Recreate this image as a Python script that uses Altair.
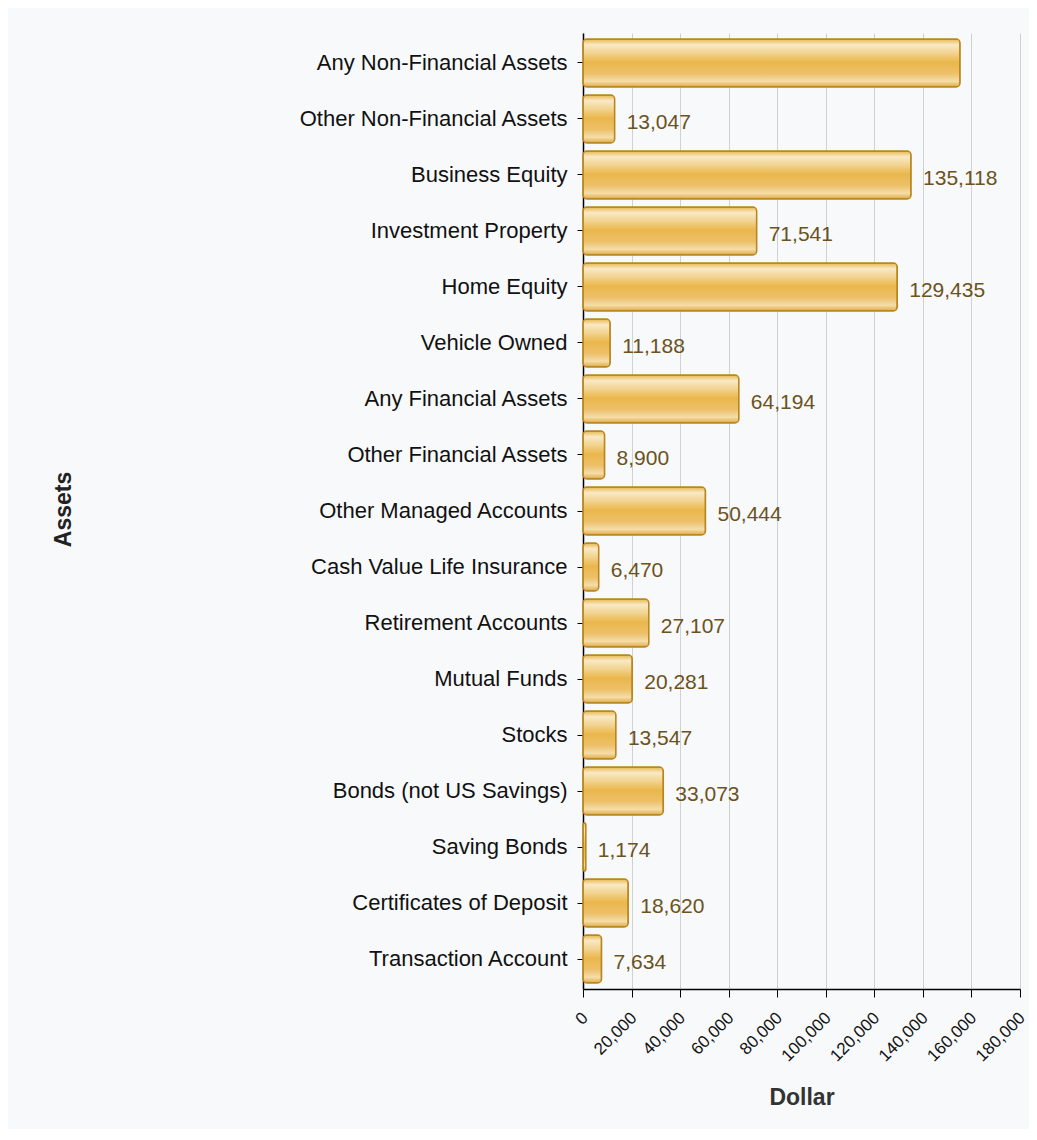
import altair as alt
import pandas as pd

categories = [
    "Any Non-Financial Assets",
    "Other Non-Financial Assets\u00a0",
    "Business Equity",
    "Investment Property",
    "Home Equity",
    "Vehicle Owned",
    "Any Financial Assets",
    "Other Financial Assets",
    "Other Managed Accounts",
    "Cash Value Life Insurance",
    "Retirement Accounts",
    "Mutual Funds",
    "Stocks",
    "Bonds (not US Savings)",
    "Saving Bonds",
    "Certificates of Deposit",
    "Transaction Account",
]
values = [155300, 13047, 135118, 71541, 129435, 11188, 64194, 8900, 50444,
          6470, 27107, 20281, 13547, 33073, 1174, 18620, 7634]
show_label = [False] + [True] * 16
x_ticks = [0, 20000, 40000, 60000, 80000, 100000, 120000, 140000, 160000, 180000]

df = pd.DataFrame({"Assets": categories, "Dollar": values, "show": show_label})

gradient = {
    "gradient": "linear",
    "x1": 0, "y1": 0, "x2": 0, "y2": 1,
    "stops": [
        {"offset": 0.0, "color": "#e9b64a"},
        {"offset": 0.12, "color": "#f9e9c6"},
        {"offset": 0.3, "color": "#f2d28e"},
        {"offset": 0.48, "color": "#eab74c"},
        {"offset": 0.72, "color": "#edc06a"},
        {"offset": 0.88, "color": "#f5ddaa"},
        {"offset": 1.0, "color": "#dfa840"},
    ],
}

y_enc = alt.Y(
    "Assets:N",
    sort=categories,
    scale=alt.Scale(paddingInner=0.143, paddingOuter=0.107),
    axis=alt.Axis(
        title="Assets",
        titleFont="Liberation Sans",
        titleFontSize=23,
        titleFontWeight="bold",
        titleColor="#222222",
        titleX=-520,
        titleY=476,
        titleAngle=-90,
        titleAlign="center",
        titleBaseline="middle",
        labelFont="Liberation Sans",
        labelFontSize=22,
        labelColor="#111111",
        labelPadding=10,
        tickSize=6,
        tickColor="#000000",
        domainColor="#000000",
        domainWidth=1.5,
        labelLimit=400,
        grid=False,
    ),
)

x_scale = alt.Scale(domain=[0, 180000], nice=False)

bars = alt.Chart(df).mark_bar(
    color=gradient,
    stroke="#b8861c",
    strokeWidth=1.5,
    cornerRadius=4,
).encode(
    x=alt.X(
        "Dollar:Q",
        scale=x_scale,
        axis=alt.Axis(
            values=x_ticks,
            format=",d",
            title="Dollar",
            titleFont="Liberation Sans",
            titleFontSize=23,
            titleFontWeight="bold",
            titleColor="#333333",
            titleY=108,
            titleBaseline="middle",
            labelFont="Liberation Sans",
            labelFontSize=17,
            labelColor="#111111",
            labelAngle=-45,
            labelAlign="right",
            labelBaseline="middle",
            labelOffset=2,
            labelPadding=18,
            labelOverlap=False,
            tickSize=8,
            tickColor="#000000",
            domainColor="#000000",
            domainWidth=1.5,
            gridColor="#d0d0d0",
            gridWidth=1,
        ),
    ),
    y=y_enc,
)

labels = alt.Chart(df).transform_filter("datum.show").mark_text(
    align="left",
    baseline="middle",
    dx=12,
    dy=4,
    font="Liberation Sans",
    fontSize=21,
    color="#6b5220",
).encode(
    x=alt.X("Dollar:Q", scale=x_scale),
    y=alt.Y("Assets:N", sort=categories),
    text=alt.Text("Dollar:Q", format=",d"),
)

chart = (bars + labels).properties(
    width=437,
    height=956,
    background="#f8f9fb",
    padding={"left": 575, "top": 25, "right": 9, "bottom": 140},
    autosize=alt.AutoSizeParams(type="none"),
).configure_view(stroke=None)

chart.save("out.html", embed_options={"renderer": "svg", "actions": False})
